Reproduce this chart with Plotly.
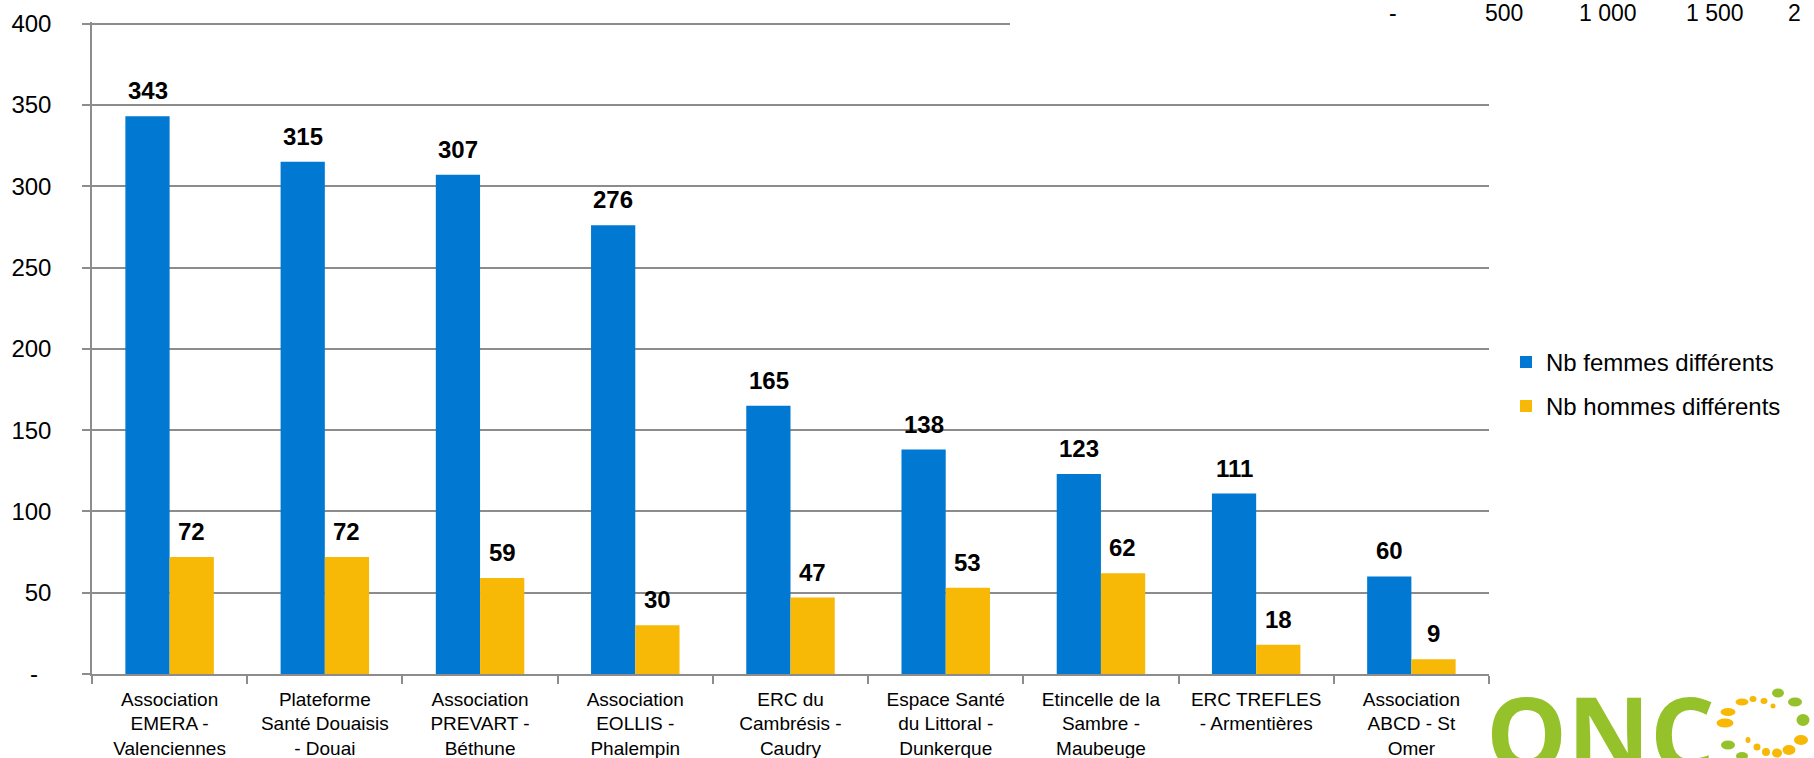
import plotly.graph_objects as go

# ---------------- data ----------------
categories = [
    "Association<br>EMERA -<br>Valenciennes",
    "Plateforme<br>Santé Douaisis<br>- Douai",
    "Association<br>PREVART -<br>Béthune",
    "Association<br>EOLLIS -<br>Phalempin",
    "ERC du<br>Cambrésis -<br>Caudry",
    "Espace Santé<br>du Littoral -<br>Dunkerque",
    "Etincelle de la<br>Sambre -<br>Maubeuge",
    "ERC TREFLES<br>- Armentières",
    "Association<br>ABCD - St<br>Omer",
]
femmes = [343, 315, 307, 276, 165, 138, 123, 111, 60]
hommes = [72, 72, 59, 30, 47, 53, 62, 18, 9]
series_names = ["Nb femmes différents", "Nb hommes différents"]
y_tickvals = [0, 50, 100, 150, 200, 250, 300, 350, 400]
y_ticktext = ["-\u00a0\u00a0", "50", "100", "150", "200", "250", "300", "350", "400"]
stray_axis_labels = ["-", "500", "1 000", "1 500", "2"]

# ---------------- styling / layout constants ----------------
W, H = 1814, 758
Y_MAX = 401
PL, PR, PB = 92, 1489, 674
PX_PER_UNIT = 650 / 400
PT = PB - Y_MAX * PX_PER_UNIT
BLUE = "#0179d3"
ORANGE = "#f7b806"
GREEN = "#95c22b"
GRID = "#8c8c8c"
FONT = "Liberation Sans, Arial, sans-serif"
TICK_PAD = "\u00a0\u00a0\u00a0"


def px_x(px):
    return (px - PL) / (PR - PL)


def px_y(py):
    return (PB - py) / (PB - PT)


fig = go.Figure()
fig.add_trace(go.Bar(x=categories, y=femmes, name=series_names[0],
                     marker=dict(color=BLUE, line=dict(width=0)),
                     legendgroup="f"))
fig.add_trace(go.Bar(x=categories, y=hommes, name=series_names[1],
                     marker=dict(color=ORANGE, line=dict(width=0)),
                     legendgroup="h"))

annotations = []
bar_half = 22
label_font = dict(family=FONT, size=24, color="black", weight="bold")
for cat, v in zip(categories, femmes):
    annotations.append(dict(x=cat, y=v, xref="x", yref="y", text=str(v),
                            showarrow=False, xshift=-bar_half, yshift=10,
                            yanchor="bottom", font=label_font))
for cat, v in zip(categories, hommes):
    annotations.append(dict(x=cat, y=v, xref="x", yref="y", text=str(v),
                            showarrow=False, xshift=bar_half, yshift=10,
                            yanchor="bottom", font=label_font))

# stray axis labels of an overlapping chart (top right)
stray_x = [1393, 1504, 1608, 1715, 1794]
for lbl, sx in zip(stray_axis_labels, stray_x):
    annotations.append(dict(x=px_x(sx), y=px_y(13), xref="paper", yref="paper",
                            text=lbl, showarrow=False, xanchor="center", yanchor="middle",
                            font=dict(family=FONT, size=23, color="black")))

# logo text
annotations.append(dict(x=px_x(1484), y=px_y(660), xref="paper", yref="paper",
                        text="ONC", showarrow=False, xanchor="left", yanchor="top",
                        font=dict(family="Open Sans", size=102, color=GREEN, weight="bold")))

shapes = []
# white patch hiding the right part of the top gridline
shapes.append(dict(type="rect", xref="paper", yref="paper",
                   x0=px_x(1010), x1=px_x(1830), y0=px_y(36), y1=px_y(-5),
                   fillcolor="white", line=dict(width=0), layer="above"))

# logo dots (x, y, w, h, colour)
dots = [
    (1742, 702, 13, 7, ORANGE), (1753, 699, 7, 6, ORANGE), (1764, 701, 7, 6, ORANGE),
    (1773, 706, 5, 5, ORANGE), (1728, 712, 15, 8, ORANGE), (1725, 723, 17, 9, ORANGE),
    (1748, 740, 5, 6, ORANGE), (1757, 747, 7, 7, ORANGE), (1766, 752, 8, 8, ORANGE),
    (1777, 753, 10, 9, ORANGE), (1789, 750, 13, 10, ORANGE), (1801, 740, 14, 10, ORANGE),
    (1778, 693, 12, 9, GREEN), (1795, 702, 14, 9, GREEN), (1803, 720, 13, 12, GREEN),
    (1728, 745, 14, 9, GREEN), (1742, 756, 12, 8, GREEN),
]
for dx, dy, dw, dh, dc in dots:
    shapes.append(dict(type="circle", xref="paper", yref="paper",
                       x0=px_x(dx - dw / 2), x1=px_x(dx + dw / 2),
                       y0=px_y(dy + dh / 2), y1=px_y(dy - dh / 2),
                       fillcolor=dc, line=dict(width=0), layer="above"))

fig.update_layout(
    width=W, height=H, autosize=False,
    margin=dict(l=PL, r=W - PR, t=PT, b=H - PB, pad=0, autoexpand=False),
    paper_bgcolor="white", plot_bgcolor="white",
    barmode="group", bargap=0.43, bargroupgap=0,
    font=dict(family=FONT, color="black"),
    hovermode=False,
    showlegend=True,
    legend=dict(x=px_x(1506), xanchor="left", y=px_y(340), yanchor="top",
                font=dict(family=FONT, size=24, color="black"),
                tracegroupgap=10, itemwidth=30, bgcolor="rgba(0,0,0,0)"),
    annotations=annotations,
    shapes=shapes,
)
fig.update_xaxes(type="category", automargin=False, showline=True, linecolor=GRID, linewidth=1.5,
                 ticks="outside", tickson="boundaries", ticklen=8, tickcolor=GRID,
                 tickwidth=1.5, showgrid=False, ticklabelstandoff=7,
                 tickfont=dict(family=FONT, size=19, color="black"))
fig.update_yaxes(range=[0, Y_MAX], tickvals=y_tickvals,
                 ticktext=[t + TICK_PAD for t in y_ticktext],
                 automargin=False, showline=True, linecolor=GRID, linewidth=1.5,
                 showgrid=True, gridcolor=GRID, gridwidth=1.5, zeroline=False,
                 ticks="outside", ticklen=8, tickcolor=GRID, tickwidth=1.5,
                 ticklabelstandoff=6,
                 tickfont=dict(family=FONT, size=24, color="black"))

# remove the browser's default 8px page margin so the figure fills the window
fig.write_html("out.html",
               config={"displayModeBar": False},
               post_script="document.body.style.margin='0px';document.body.style.overflow='hidden';")
